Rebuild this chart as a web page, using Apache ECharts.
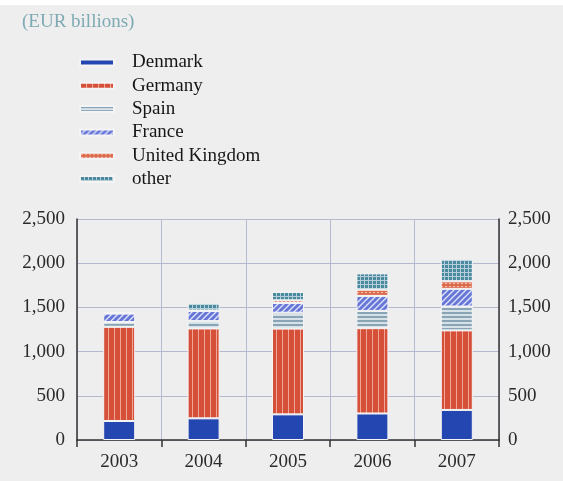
<!DOCTYPE html>
<html>
<head>
<meta charset="utf-8">
<script src="https://cdn.jsdelivr.net/npm/echarts@6/dist/echarts.min.js"></script>
<style>
html,body{margin:0;padding:0;background:#ffffff;}
#c{width:563px;height:481px;}
</style>
</head>
<body>
<div id="c"></div>
<script>
// ---- data ----
const categories = ['2003', '2004', '2005', '2006', '2007'];
const seriesNames = ['Denmark', 'Germany', 'Spain', 'France', 'United Kingdom', 'other'];
const denmark = [215, 245, 290, 300, 340];
const germany = [1065, 1017, 970, 965, 900];
const spain = [55, 83, 180, 195, 270];
const france = [95, 115, 110, 170, 200];
const uk = [5, 5, 30, 70, 85];
const other = [5, 82, 95, 185, 250];
const unitLabel = '(EUR billions)';

// ---- patterns ----
function pat(w, h, draw) {
  const c = document.createElement('canvas');
  c.width = w; c.height = h;
  const g = c.getContext('2d');
  draw(g, w, h);
  return { image: c, repeat: 'repeat' };
}
const germanyPat = pat(6, 4, (g, w, h) => {
  g.fillStyle = '#d64f38'; g.fillRect(0, 0, w, h);
  g.fillStyle = '#efa898'; g.fillRect(0, 0, 1, h);
});
const spainPat = pat(4, 4, (g, w, h) => {
  g.fillStyle = '#d6e2e8'; g.fillRect(0, 0, w, h);
  g.fillStyle = '#89a5b5'; g.fillRect(0, 0, w, 2);
});
const francePat = pat(6, 6, (g, w, h) => {
  g.fillStyle = '#6576d6'; g.fillRect(0, 0, w, h);
  g.strokeStyle = 'rgba(235,238,255,0.9)'; g.lineWidth = 1.4;
  g.beginPath();
  g.moveTo(-1, 7); g.lineTo(7, -1);
  g.moveTo(-1, 1); g.lineTo(1, -1);
  g.moveTo(5, 7); g.lineTo(7, 5);
  g.stroke();
});
const ukPat = pat(4, 3, (g, w, h) => {
  g.fillStyle = '#dc6b4d'; g.fillRect(0, 0, w, h);
  g.fillStyle = '#f4c4b2'; g.fillRect(1, 1, 2, 1);
});
const otherPat = pat(4, 4, (g, w, h) => {
  g.fillStyle = '#4b8a9e'; g.fillRect(0, 0, w, h);
  g.fillStyle = '#b4cfd9'; g.fillRect(0, 0, w, 1); g.fillRect(0, 0, 1, h);
});

const fills = ['#2446b0', germanyPat, spainPat, francePat, ukPat, otherPat];
const values = [denmark, germany, spain, france, uk, other];

const serif = '"Liberation Serif", "DejaVu Serif", serif';

const chart = echarts.init(document.getElementById('c'), null, { renderer: 'canvas' });

const series = seriesNames.map((name, i) => ({
  name: name,
  type: 'bar',
  stack: 'total',
  barWidth: 32,
  data: values[i],
  itemStyle: { color: fills[i], borderColor: '#f4f4f4', borderWidth: 1 },
  emphasis: { disabled: true }
}));

chart.setOption({
  backgroundColor: '#eeeeee',
  animation: false,
  graphic: [
    { type: 'rect', left: 0, top: 0, shape: { width: 563, height: 5 }, style: { fill: '#ffffff' } }
  ],
  title: {
    text: unitLabel,
    left: 17, top: 8,
    textStyle: { fontFamily: serif, fontSize: 19, fontWeight: 'normal', color: '#7eaab3' }
  },
  legend: {
    orient: 'vertical',
    left: 79, top: 53,
    padding: 0,
    icon: 'rect',
    itemWidth: 34, itemHeight: 6,
    itemGap: 4.3,
    selectedMode: false,
    data: seriesNames,
    textStyle: { fontFamily: serif, fontSize: 19, color: '#161616', lineHeight: 19, padding: [0, 0, 0, 13] }
  },
  grid: { left: 77, right: 64, top: 219, bottom: 41 },
  xAxis: {
    type: 'category',
    data: categories,
    axisLine: { show: true, lineStyle: { color: '#333', width: 1.5 } },
    axisTick: { show: true, length: 7, lineStyle: { color: '#333', width: 1.5 } },
    axisLabel: { fontFamily: serif, fontSize: 19, color: '#2a2a2a', margin: 13 },
    splitLine: { show: true, lineStyle: { color: '#b5b9d6', width: 1 } }
  },
  yAxis: [
    {
      type: 'value', min: 0, max: 2500, interval: 500, position: 'left',
      axisLine: { show: true, lineStyle: { color: '#333', width: 1.5 } },
      axisTick: { show: false },
      axisLabel: { fontFamily: serif, fontSize: 19, color: '#2a2a2a', margin: 12,
        formatter: v => v.toLocaleString('en-US') },
      splitLine: { show: true, lineStyle: { color: '#b5b9d0', width: 1 } }
    },
    {
      type: 'value', min: 0, max: 2500, interval: 500, position: 'right',
      axisLine: { show: true, lineStyle: { color: '#333', width: 1.5 } },
      axisTick: { show: false },
      axisLabel: { fontFamily: serif, fontSize: 19, color: '#2a2a2a', margin: 9,
        formatter: v => v.toLocaleString('en-US') },
      splitLine: { show: false }
    }
  ],
  series: series
});
</script>
</body>
</html>
